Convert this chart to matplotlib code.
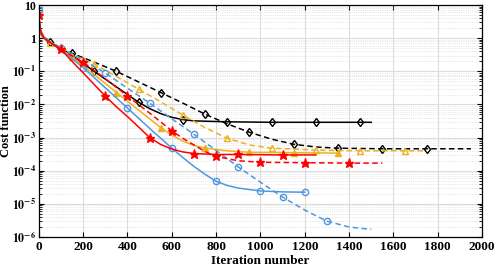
import numpy as np
import matplotlib
matplotlib.use("Agg")
import matplotlib.pyplot as plt
from matplotlib.ticker import FixedLocator, LogLocator, NullFormatter

plt.rcParams['font.family'] = ['Liberation Serif', 'DejaVu Serif']
plt.rcParams['font.weight'] = 'bold'
plt.rcParams['mathtext.fontset'] = 'stix'

# data (iteration, cost)
red_s_x = [0, 3, 6, 12, 25, 50, 100, 150, 200, 250, 300, 350, 400, 450, 500, 550, 600, 650, 700, 800, 900, 1000, 1100, 1250]
red_s_y = [5.5, 3, 2, 1.4, 1.0, 0.75, 0.46, 0.2, 0.09, 0.04, 0.018, 0.0085, 0.0043, 0.0021, 0.001, 0.00062, 0.00045,
           0.00037, 0.00033, 0.00031, 0.00031, 0.000305, 0.0003, 0.0003]
red_s_mk = [100, 300, 500, 700, 900, 1100]

red_d_x = [0, 3, 6, 12, 25, 50, 100, 200, 300, 400, 500, 600, 650, 700, 750, 800, 900, 1000, 1200, 1400, 1550]
red_d_y = [5, 2.8, 1.9, 1.35, 1.0, 0.75, 0.45, 0.19, 0.06, 0.018, 0.0055, 0.0016, 0.00095, 0.0006, 0.00038, 0.00027,
           0.0002, 0.00018, 0.000175, 0.00017, 0.00017]
red_d_mk = [0, 200, 400, 600, 800, 1000, 1200, 1400]

blue_s_x = [0, 3, 6, 12, 25, 50, 100, 200, 300, 400, 500, 600, 650, 700, 750, 800, 850, 900, 1000, 1100, 1200]
blue_s_y = [7, 3, 2, 1.4, 1.0, 0.75, 0.45, 0.13, 0.032, 0.0078, 0.0019, 0.00048, 0.00025, 0.000135, 7.8e-5, 4.8e-5,
            3.6e-5, 3.0e-5, 2.45e-5, 2.3e-5, 2.25e-5]
blue_s_mk = [0, 200, 400, 600, 800, 1000, 1200]

blue_d_x = [0, 3, 6, 12, 25, 50, 100, 200, 300, 400, 500, 600, 700, 800, 900, 1000, 1100, 1200, 1300, 1400, 1500]
blue_d_y = [6, 3, 2.1, 1.5, 1.1, 0.8, 0.5, 0.22, 0.089, 0.031, 0.011, 0.0037, 0.00126, 0.00041, 0.00013, 4.5e-5,
            1.6e-5, 6.5e-6, 3.0e-6, 2.0e-6, 1.7e-6]
blue_d_mk = [100, 300, 500, 700, 900, 1100, 1300]

blk_s_x = [0, 3, 6, 12, 25, 50, 100, 150, 250, 350, 450, 500, 550, 600, 650, 700, 850, 1050, 1250, 1450, 1500]
blk_s_y = [6, 2.5, 1.8, 1.3, 1.0, 0.76, 0.5, 0.3, 0.1, 0.034, 0.0117, 0.0075, 0.0053, 0.0041, 0.0035, 0.0032,
           0.003, 0.0029, 0.0029, 0.0029, 0.0029]
blk_s_mk = [50, 250, 450, 650, 850, 1050, 1250, 1450]

blk_d_x = [0, 3, 6, 12, 25, 50, 100, 150, 250, 350, 450, 550, 650, 750, 850, 950, 1050, 1150, 1250, 1350, 1550,
           1750, 1950]
blk_d_y = [5, 2.4, 1.7, 1.25, 0.95, 0.75, 0.5, 0.35, 0.19, 0.1, 0.048, 0.023, 0.011, 0.0051, 0.0026, 0.00145,
           0.0009, 0.00063, 0.00052, 0.00048, 0.00046, 0.00046, 0.00046]
blk_d_mk = [150, 350, 550, 750, 950, 1150, 1350, 1550, 1750]

org_d_x = [0, 3, 6, 12, 25, 50, 100, 150, 250, 350, 450, 550, 650, 750, 850, 950, 1050, 1250, 1450, 1650, 1750]
org_d_y = [5, 2.2, 1.6, 1.2, 0.9, 0.72, 0.5, 0.33, 0.166, 0.07, 0.029, 0.012, 0.0048, 0.002, 0.00095, 0.0006,
           0.00048, 0.00042, 0.0004, 0.0004, 0.0004]
org_d_mk = [50, 250, 450, 650, 850, 1050, 1250, 1450, 1650]

org_s_x = [0, 3, 6, 12, 25, 50, 100, 150, 250, 350, 450, 550, 600, 650, 700, 750, 850, 950, 1150, 1350]
org_s_y = [5.5, 2.5, 1.7, 1.3, 1.0, 0.75, 0.48, 0.27, 0.08, 0.023, 0.0068, 0.002, 0.0012, 0.00078, 0.00058,
           0.00048, 0.0004, 0.00036, 0.00035, 0.00034]
org_s_mk = [150, 350, 550, 750, 950, 1150, 1350]

x_ticks = list(range(0, 2001, 200))
y_ticks = [1e-6, 1e-5, 1e-4, 1e-3, 1e-2, 1e-1, 1, 10]
y_labels = [r'$\mathbf{10^{-6}}$', r'$\mathbf{10^{-5}}$', r'$\mathbf{10^{-4}}$', r'$\mathbf{10^{-3}}$',
            r'$\mathbf{10^{-2}}$', r'$\mathbf{10^{-1}}$', '1', '10']

BLUE = '#4f97e0'
ORANGE = '#EDB120'

fig = plt.figure(figsize=(4.98, 2.69), dpi=100)
ax = fig.add_axes([0.078, 0.119, 0.89, 0.862])


def draw(x, y, mk, color, ls, marker, ms, face):
    idx = [x.index(m) for m in mk]
    line, = ax.plot(x, y, ls, color=color, lw=1.1, marker=marker, markevery=idx, ms=ms,
                    mfc=face, mec=color, mew=1.0)
    if ls == '--':
        line.set_dashes((3.6, 2.2))


draw(blk_d_x, blk_d_y, blk_d_mk, 'k', '--', 'd', 4.5, 'none')
draw(blk_s_x, blk_s_y, blk_s_mk, 'k', '-', 'd', 4.5, 'none')
draw(org_d_x, org_d_y, org_d_mk, ORANGE, '--', '^', 5, 'none')
draw(org_s_x, org_s_y, org_s_mk, ORANGE, '-', '^', 5, ORANGE)
draw(blue_d_x, blue_d_y, blue_d_mk, BLUE, '--', 'o', 4.5, 'none')
draw(blue_s_x, blue_s_y, blue_s_mk, BLUE, '-', 'o', 4.5, 'none')
draw(red_d_x, red_d_y, red_d_mk, 'red', '--', '*', 6.5, 'red')
draw(red_s_x, red_s_y, red_s_mk, 'red', '-', '*', 6.5, 'red')

ax.set_yscale('log')
ax.set_xlim(0, 2000)
ax.set_ylim(1e-6, 10)
ax.xaxis.set_major_locator(FixedLocator(x_ticks))
ax.set_yticks(y_ticks)
ax.set_yticklabels(y_labels)
ax.yaxis.set_minor_locator(LogLocator(base=10, subs=np.arange(2, 10), numticks=20))
ax.yaxis.set_minor_formatter(NullFormatter())

ax.grid(True, which='major', color='#dcdcdc', lw=0.8)
ax.grid(True, which='minor', axis='y', color='#d4d4d4', lw=0.5, ls=':')
ax.set_axisbelow(True)

ax.tick_params(which='both', direction='in', top=True, right=True, pad=3)
ax.tick_params(axis='x', labelsize=9.5)
ax.tick_params(axis='y', labelsize=8.5, pad=2)
ax.tick_params(which='major', length=3.5)
ax.tick_params(which='minor', length=2)
for lab in ax.get_xticklabels() + ax.get_yticklabels():
    lab.set_fontweight('bold')
for s in ax.spines.values():
    s.set_linewidth(0.9)

ax.set_xlabel('Iteration number', fontsize=9.5, fontweight='bold', labelpad=1)
ax.set_ylabel('Cost function', fontsize=9, fontweight='bold')
ax.yaxis.set_label_coords(-0.061, 0.5)

fig.savefig('out.png', dpi=100)
